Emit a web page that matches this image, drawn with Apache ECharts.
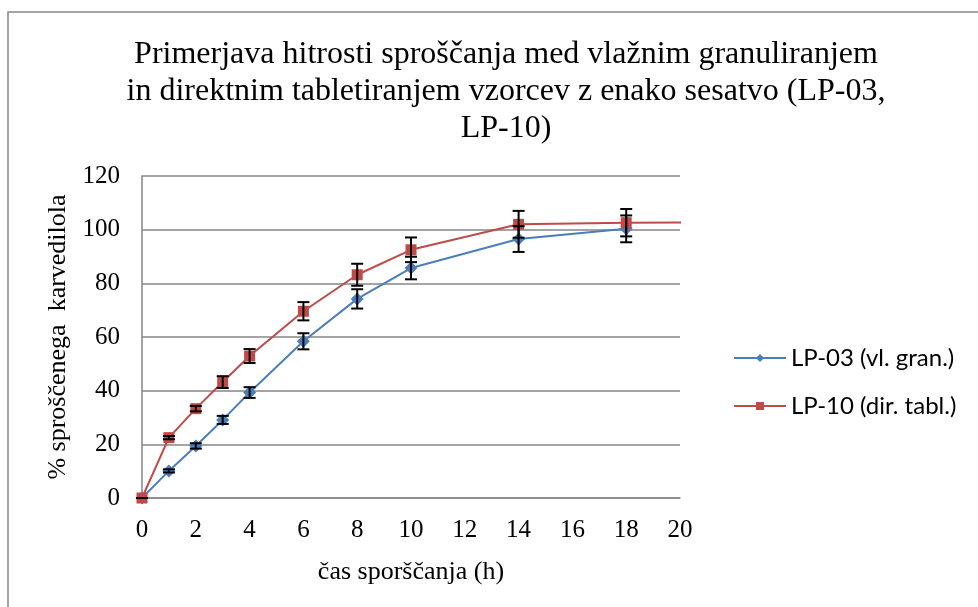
<!DOCTYPE html>
<html>
<head>
<meta charset="utf-8">
<script src="https://cdn.jsdelivr.net/npm/echarts@6/dist/echarts.min.js"></script>
<style>
  html, body { margin: 0; padding: 0; background: #fff; }
  #main { width: 978px; height: 607px; }
</style>
</head>
<body>
<div id="main"></div>
<script>
// čas (h)
const hours = [0, 1, 2, 3, 4, 6, 8, 10, 14, 18];
// LP-03 (vl. gran.)
const lp03 = [0, 10.1, 19.4, 29.1, 39.3, 58.4, 74.2, 85.7, 96.5, 100.3];
const lp03Err = [0, 0.6, 1, 1.5, 2, 3, 3.6, 4.2, 4.8, 5];
// LP-10 (dir. tabl.) - line continues past the axis end
const lp10Hours = [0, 1, 2, 3, 4, 6, 8, 10, 14, 18, 24];
const lp10 = [0, 22.5, 33.3, 43.2, 52.9, 69.6, 83.2, 92.5, 102, 102.6, 102.8];
const lp10Err = [0, 0.6, 1, 2.2, 2.6, 3.4, 4.1, 4.6, 5, 5.1];

const yTicks = [0, 20, 40, 60, 80, 100, 120];
const xTicks = [0, 2, 4, 6, 8, 10, 12, 14, 16, 18, 20];

const serif = '"Liberation Serif", "DejaVu Serif", serif';
const sans = 'Lato, "Liberation Sans", sans-serif';

function errData(xs, ys, es) {
  return es.map((e, i) => [xs[i], ys[i] - e, ys[i] + e]);
}

function errRender(params, api) {
  const lo = api.coord([api.value(0), api.value(1)]);
  const hi = api.coord([api.value(0), api.value(2)]);
  const w = 6;
  const style = { stroke: '#000', lineWidth: 2 };
  return {
    type: 'group',
    children: [
      { type: 'line', shape: { x1: lo[0], y1: lo[1], x2: hi[0], y2: hi[1] }, style },
      { type: 'line', shape: { x1: lo[0] - w, y1: lo[1], x2: lo[0] + w, y2: lo[1] }, style },
      { type: 'line', shape: { x1: hi[0] - w, y1: hi[1], x2: hi[0] + w, y2: hi[1] }, style }
    ]
  };
}

const chart = echarts.init(document.getElementById('main'));

chart.setOption({
  animation: false,
  graphic: [{
    type: 'rect',
    shape: { x: 8, y: 12, width: 1000, height: 700 },
    style: { fill: 'none', stroke: '#878787', lineWidth: 1.5 },
    silent: true
  }],
  title: {
    text: 'Primerjava hitrosti sproščanja med vlažnim granuliranjem\nin direktnim tabletiranjem vzorcev z enako sesatvo (LP-03,\nLP-10)',
    left: 501,
    top: 31,
    textAlign: 'center',
    textStyle: {
      fontFamily: serif, fontSize: 32, fontWeight: 'normal',
      color: '#000', lineHeight: 37
    }
  },
  legend: {
    orient: 'vertical',
    left: 728,
    top: 341,
    itemWidth: 52,
    itemHeight: 10,
    itemGap: 24,
    textStyle: { fontFamily: sans, fontSize: 24, color: '#000' },
    data: ['LP-03 (vl. gran.)', 'LP-10 (dir. tabl.)']
  },
  grid: { left: 142, right: 298, top: 176, bottom: 109 },
  xAxis: {
    type: 'value',
    min: xTicks[0],
    max: xTicks[xTicks.length - 1],
    interval: 2,
    name: 'čas sporščanja (h)',
    nameLocation: 'middle',
    nameGap: 61,
    nameTextStyle: { fontFamily: serif, fontSize: 26, color: '#000' },
    axisLine: { lineStyle: { color: '#868686', width: 1.5 } },
    axisTick: { show: false },
    splitLine: { show: false },
    axisLabel: { fontFamily: serif, fontSize: 25, color: '#000', margin: 20 }
  },
  yAxis: {
    type: 'value',
    min: yTicks[0],
    max: yTicks[yTicks.length - 1],
    interval: 20,
    name: '% sproščenega  karvedilola',
    nameLocation: 'middle',
    nameGap: 70,
    nameTextStyle: { fontFamily: serif, fontSize: 26, color: '#000' },
    axisLine: { show: true, lineStyle: { color: '#868686', width: 1.5 } },
    axisTick: { show: false },
    splitLine: { lineStyle: { color: '#868686', width: 1.5 } },
    axisLabel: { fontFamily: serif, fontSize: 25, color: '#000', margin: 22 }
  },
  series: [
    {
      name: 'LP-03 (vl. gran.)',
      type: 'line',
      data: hours.map((h, i) => [h, lp03[i]]),
      symbol: 'diamond',
      symbolSize: 13,
      color: '#4A7EBB',
      lineStyle: { width: 2 },
      z: 3
    },
    {
      name: 'LP-10 (dir. tabl.)',
      type: 'line',
      data: lp10Hours.map((h, i) => [h, lp10[i]]),
      symbol: 'rect',
      symbolSize: 11,
      color: '#BE4B48',
      lineStyle: { width: 2 },
      clip: true,
      z: 4
    },
    {
      type: 'custom',
      data: errData(hours, lp03, lp03Err),
      renderItem: errRender,
      z: 10,
      silent: true
    },
    {
      type: 'custom',
      data: errData(hours, lp10, lp10Err),
      renderItem: errRender,
      z: 10,
      silent: true
    }
  ]
});
</script>
</body>
</html>
